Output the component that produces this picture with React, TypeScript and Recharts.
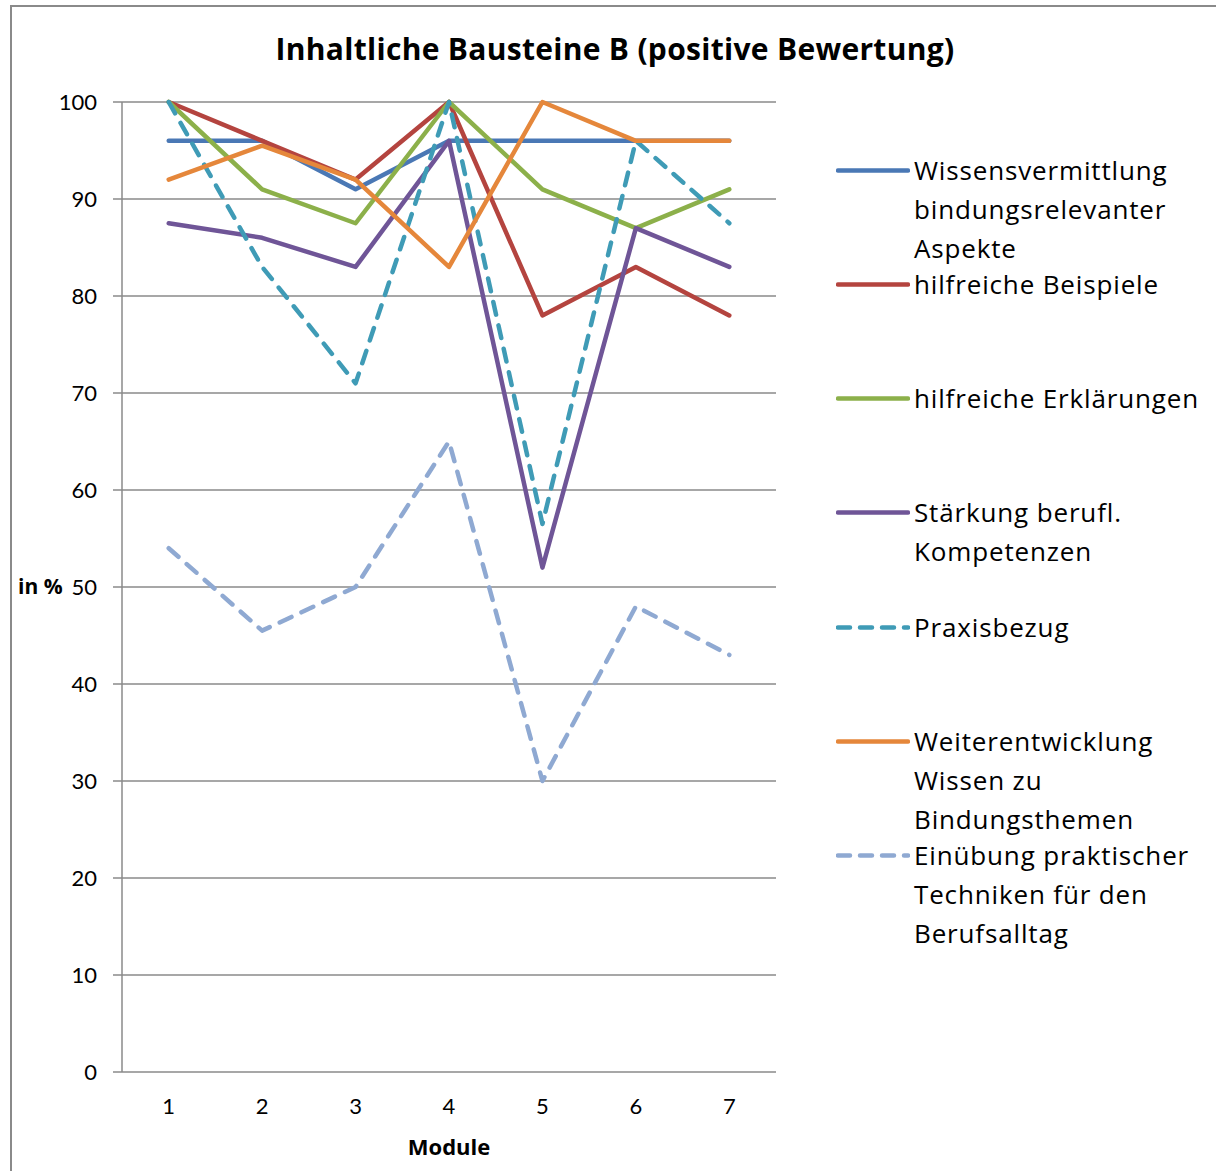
import { CartesianGrid, Line, LineChart, XAxis, YAxis } from "recharts";

const modules = ["1", "2", "3", "4", "5", "6", "7"];

const wissen = [96, 96, 91, 96, 96, 96, 96];
const beispiele = [100, 96, 92, 100, 78, 83, 78];
const erklaerungen = [100, 91, 87.5, 100, 91, 87, 91];
const staerkung = [87.5, 86, 83, 96, 52, 87, 83];
const praxis = [100, 83, 71, 100, 56.5, 96, 87.5];
const weiterentwicklung = [92, 95.5, 92, 83, 100, 96, 96];
const einuebung = [54, 45.5, 50, 65, 30, 48, 43];

const yTicks = [0, 10, 20, 30, 40, 50, 60, 70, 80, 90, 100];
const boundaryTicks = [0, 1, 2, 3, 4, 5, 6, 7];

const series = [
  { key: "wissen", name: "Wissensvermittlung\nbindungsrelevanter\nAspekte", values: wissen, color: "#4a78b5", dashed: false },
  { key: "beispiele", name: "hilfreiche Beispiele", values: beispiele, color: "#b4443f", dashed: false },
  { key: "erklaerungen", name: "hilfreiche Erklärungen", values: erklaerungen, color: "#8cb04a", dashed: false },
  { key: "staerkung", name: "Stärkung berufl.\nKompetenzen", values: staerkung, color: "#6f5597", dashed: false },
  { key: "praxis", name: "Praxisbezug", values: praxis, color: "#3f9bb6", dashed: true },
  { key: "weiter", name: "Weiterentwicklung\nWissen zu\nBindungsthemen", values: weiterentwicklung, color: "#e5873b", dashed: false },
  { key: "einuebung", name: "Einübung praktischer\nTechniken für den\nBerufsalltag", values: einuebung, color: "#8fa9d2", dashed: true },
];

const data = modules.map((m, i) => {
  const row: Record<string, string | number> = { module: m };
  series.forEach(s => { row[s.key] = s.values[i]; });
  return row;
});

const FONT = "'Open Sans', Lato, sans-serif";
const NUM_FONT = "Lato, 'Open Sans', sans-serif";
const GRAY = "#8a8a8a";

export default function App() {
  return (
    <div style={{ position: "absolute", left: 10, top: 5, width: 1206, height: 1166, borderLeft: `2px solid ${GRAY}`, borderTop: `2px solid ${GRAY}`, background: "#fff", fontFamily: FONT }}>
      <style>{`body { margin: 0; overflow: hidden; }`}</style>
      <div style={{ position: "absolute", left: 0, top: 21, width: 1206, textAlign: "center", fontSize: 30, fontWeight: 700, color: "#000", letterSpacing: 0.3 }}>
        Inhaltliche Bausteine B (positive Bewertung)
      </div>

      <LineChart width={1206} height={1166} data={data} margin={{ top: 95, right: 442, left: 0, bottom: 0 }}>
        <CartesianGrid vertical={false} stroke={GRAY} strokeWidth={1.5} />
        <XAxis
          xAxisId="grid"
          type="number"
          domain={[0, 7]}
          ticks={boundaryTicks}
          height={1}
          tickSize={7}
          tick={() => <g />}
          axisLine={{ stroke: GRAY, strokeWidth: 1.5 }}
          tickLine={{ stroke: GRAY, strokeWidth: 1.5 }}
        />
        <XAxis
          dataKey="module"
          height={100}
          padding={{ left: 46.7, right: 46.7 }}
          axisLine={false}
          tickLine={false}
          tickSize={0}
          tickMargin={26}
          tick={{ fontSize: 22, fill: "#000", fontFamily: NUM_FONT }}
          label={{ value: "Module", position: "insideBottom", offset: 17, fontSize: 22, fontWeight: 700, fill: "#000", fontFamily: FONT }}
        />
        <YAxis
          width={110}
          domain={[0, 100]}
          ticks={yTicks}
          interval={0}
          tickSize={9}
          tickMargin={16}
          axisLine={{ stroke: GRAY, strokeWidth: 1.5 }}
          tickLine={{ stroke: GRAY, strokeWidth: 1.5 }}
          tick={{ fontSize: 22, fill: "#000", fontFamily: NUM_FONT }}
          label={{ value: "in %", position: "insideLeft", offset: 6, fontSize: 21, fontWeight: 700, fill: "#000", fontFamily: FONT }}
        />
        {series.map(s => (
          <Line
            key={s.key}
            type="linear"
            dataKey={s.key}
            name={s.name}
            stroke={s.color}
            strokeWidth={4.5}
            strokeDasharray={s.dashed ? "13 11" : undefined}
            strokeLinecap="round"
            strokeLinejoin="round"
            dot={false}
            activeDot={false}
            isAnimationActive={false}
          />
        ))}
      </LineChart>

      {series.map((s, i) => (
        <div key={s.key} style={{ position: "absolute", left: 824, top: 163 - 19.5 + i * 114.3, display: "flex", alignItems: "flex-start" }}>
          <svg width={74} height={39} style={{ flex: "none" }}>
            <line x1={2} y1={19.5} x2={72} y2={19.5} stroke={s.color} strokeWidth={4.5} strokeLinecap="round" strokeDasharray={s.dashed ? "12 10" : undefined} />
          </svg>
          <div style={{ marginLeft: 4, fontSize: 26, lineHeight: "39px", letterSpacing: 0.85, whiteSpace: "pre-line", color: "#000" }}>{s.name}</div>
        </div>
      ))}
    </div>
  );
}
